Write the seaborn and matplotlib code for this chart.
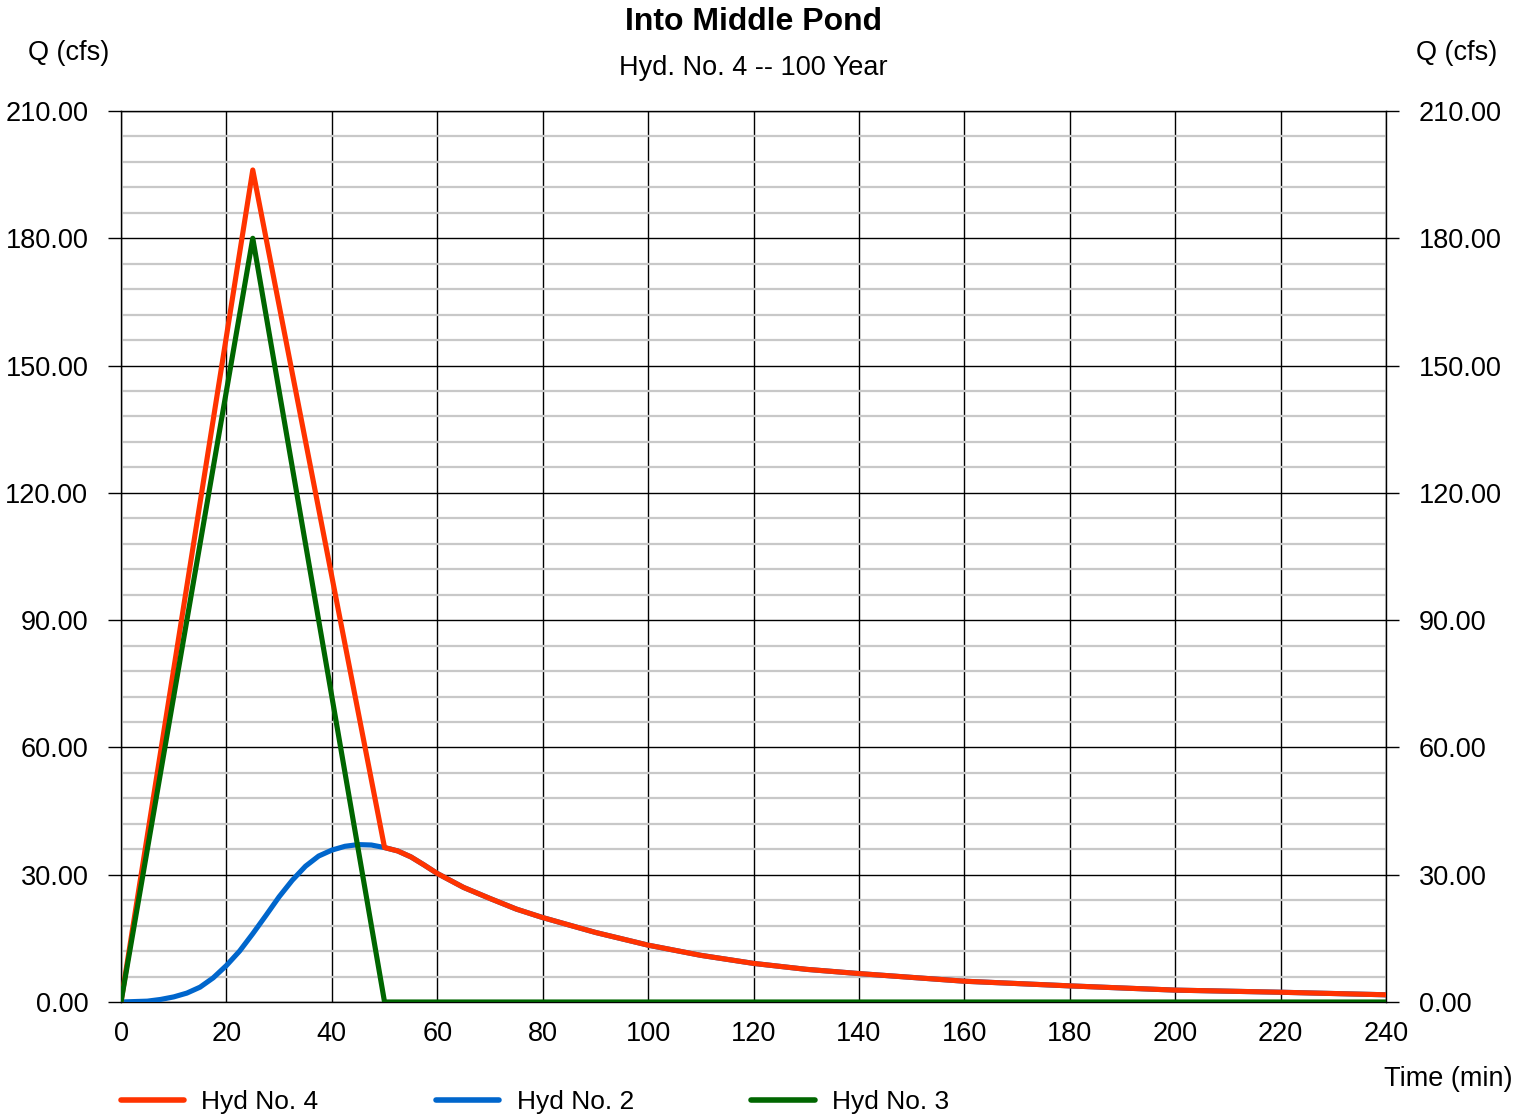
import matplotlib
matplotlib.use("Agg")
import matplotlib.pyplot as plt
from matplotlib.ticker import MultipleLocator, FormatStrFormatter
import seaborn as sns
import pandas as pd

# ---- data ----
hyd3_t = [0, 25, 50, 240]
hyd3_q = [0.0, 180.0, 0.0, 0.0]

hyd2_t = [0, 2.5, 5, 7.5, 10, 12.5, 15, 17.5, 20, 22.5, 25, 27.5, 30, 32.5,
          35, 37.5, 40, 42.5, 45, 47.5, 50, 52.5, 55, 57.5, 60, 65, 70, 75,
          80, 90, 100, 110, 120, 130, 140, 160, 180, 200, 220, 240]
hyd2_q = [0.0, 0.1, 0.2, 0.6, 1.2, 2.1, 3.5, 5.7, 8.6, 12.0, 16.1, 20.4,
          24.8, 28.7, 32.0, 34.4, 35.8, 36.7, 37.1, 37.0, 36.4, 35.6, 34.2,
          32.3, 30.3, 27.0, 24.4, 21.9, 19.9, 16.4, 13.4, 11.0, 9.1, 7.7,
          6.7, 4.9, 3.8, 2.8, 2.3, 1.7]

hyd4_t = [0, 25, 50, 52.5, 55, 57.5, 60, 65, 70, 75, 80, 90, 100, 110, 120,
          130, 140, 160, 180, 200, 220, 240]
hyd4_q = [0.0, 196.1, 36.4, 35.6, 34.2, 32.3, 30.3, 27.0, 24.4, 21.9, 19.9,
          16.4, 13.4, 11.0, 9.1, 7.7, 6.7, 4.9, 3.8, 2.8, 2.3, 1.7]

series_names = ["Hyd No. 4", "Hyd No. 2", "Hyd No. 3"]
series_colors = ["#FF3300", "#0066CC", "#006600"]
x_ticks = list(range(0, 241, 20))
y_ticks = [0, 30, 60, 90, 120, 150, 180, 210]

title = "Into Middle Pond"
subtitle = "Hyd. No. 4 -- 100 Year"

# ---- styling ----
sns.set_style("white")
plt.rcParams["font.family"] = ["Liberation Sans", "DejaVu Sans"]
for k in ["text.color", "axes.labelcolor", "xtick.color", "ytick.color",
          "xtick.labelcolor", "ytick.labelcolor"]:
    plt.rcParams[k] = "black"

W, H = 1515, 1114
FS = 19.5
fig = plt.figure(figsize=(W / 100, H / 100), dpi=100)
ax = fig.add_axes([121 / W, 1 - 1002 / H, (1386 - 121) / W, (1002 - 111) / H])

frames = {
    "Hyd No. 4": pd.DataFrame({"t": hyd4_t, "q": hyd4_q}),
    "Hyd No. 2": pd.DataFrame({"t": hyd2_t, "q": hyd2_q}),
    "Hyd No. 3": pd.DataFrame({"t": hyd3_t, "q": hyd3_q}),
}
zorders = {"Hyd No. 4": 4, "Hyd No. 2": 3, "Hyd No. 3": 5}
handles = []
for name, col in zip(series_names, series_colors):
    df = frames[name]
    sns.lineplot(data=df, x="t", y="q", ax=ax, color=col, linewidth=3.7,
                 label=name, estimator=None, sort=False, legend=False,
                 zorder=zorders[name])
    ln = ax.lines[-1]
    ln.set_solid_capstyle("round")
    ln.set_solid_joinstyle("round")
    handles.append(ln)

ax.set_xlim(0, 240)
ax.set_ylim(0, 210)
ax.set_xticks(x_ticks)
ax.set_yticks(y_ticks)
ax.yaxis.set_minor_locator(MultipleLocator(6))
ax.yaxis.set_major_formatter(FormatStrFormatter("%.2f"))
ax.set_xlabel("")
ax.set_ylabel("")

ax.grid(which="major", axis="both", color="black", linewidth=1.0, zorder=1)
ax.grid(which="minor", axis="y", color="#c8c8c8", linewidth=1.6, zorder=0)
ax.set_axisbelow(True)

ax.tick_params(axis="y", which="major", left=True, right=True,
               labelleft=True, labelright=True, length=9.5, width=1.0,
               color="black", pad=14, labelsize=FS)
ax.tick_params(axis="y", which="minor", length=0)
ax.tick_params(axis="x", which="major", bottom=False, length=0, pad=14,
               labelsize=FS)
for s in ax.spines.values():
    s.set_color("black")
    s.set_linewidth(1.0)

# titles and axis captions
cx = 0.5 * (121 + 1386) / W
fig.text(cx, 1 - 22 / H, title, ha="center", va="center", fontsize=23,
         fontweight="bold")
fig.text(cx, 1 - 68 / H, subtitle, ha="center", va="center", fontsize=FS)
fig.text(28 / W, 1 - 53 / H, "Q (cfs)", ha="left", va="center", fontsize=FS)
fig.text(1497 / W, 1 - 53 / H, "Q (cfs)", ha="right", va="center",
         fontsize=FS)
fig.text(1513 / W, 1 - 1079 / H, "Time (min)", ha="right", va="center",
         fontsize=FS)

leg = fig.legend(handles=handles, labels=series_names, ncol=3,
                 loc="center left", bbox_to_anchor=(121 / W, 1 - 1102 / H),
                 frameon=False, fontsize=19, handlelength=2.4,
                 handletextpad=0.65, columnspacing=4.45, borderpad=0,
                 borderaxespad=0)
for lh in leg.get_lines():
    lh.set_linewidth(4.0)
    lh.set_solid_capstyle("round")

fig.savefig("out.png", dpi=100)
